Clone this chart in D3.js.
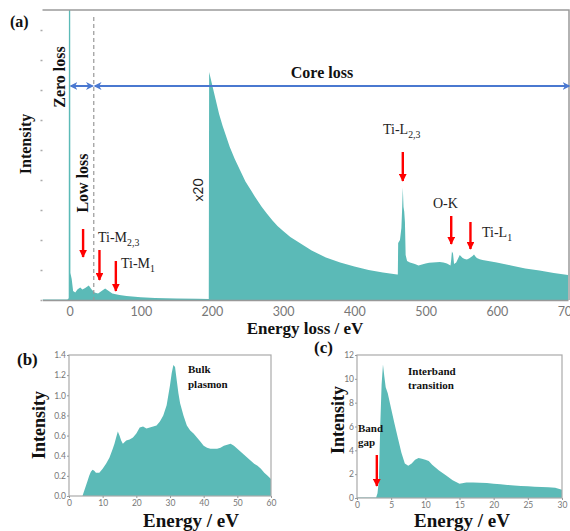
<!DOCTYPE html>
<html>
<head>
<meta charset="utf-8">
<script src="https://cdn.jsdelivr.net/npm/d3@7"></script>
<style>
  body { margin: 0; background: #fff; }
  svg { display: block; }
  .lbl { font-family: "Liberation Serif", "Times New Roman", serif; font-weight: bold; fill: #111; }
  .peak { font-family: "Liberation Serif", "Times New Roman", serif; fill: #222; }
  .tick text { font-family: Lato, "Open Sans", sans-serif; fill: #777; }
</style>
</head>
<body>
<svg id="chart" width="570" height="531"></svg>
<script>
// EELS spectrum (a): energy loss in eV and intensity (arbitrary units, core part x20)
const lossEnergy = [-38, -3, -1.2, -0.8, 0.8, 1.2, 3, 5, 8, 11, 15, 18, 22, 27, 31, 35, 40, 45, 50, 55, 60, 70, 80, 100, 120, 150, 180, 195.5,
  196, 200, 205, 210, 215, 220, 225, 232, 240, 247, 255, 262, 270, 277, 285, 292, 300, 310, 320, 330, 340, 350, 360, 370, 380, 390, 400, 410, 420, 430, 440, 450, 460, 461,
  461.5, 464, 466, 467, 468, 469, 470, 471, 472, 474, 478, 485, 490, 495, 500, 505, 510, 515, 520, 525, 530, 535, 536, 537, 538.5, 540, 543, 546, 548, 550, 552, 555, 558, 561, 563, 566, 568, 570, 572, 576, 580, 590, 600, 610, 620, 630, 640, 650, 660, 670, 680, 690, 700, 710];
const lossIntensity = [0.02, 0.02, 0.06, 14, 14, 0.9, 0.7, 0.3, 0.25, 0.35, 0.42, 0.35, 0.4, 0.48, 0.35, 0.25, 0.22, 0.3, 0.38, 0.3, 0.22, 0.17, 0.13, 0.09, 0.07, 0.05, 0.04, 0.03,
  7.6, 7.2, 6.7, 6.2, 5.8, 5.45, 5.1, 4.7, 4.3, 3.95, 3.65, 3.38, 3.1, 2.88, 2.65, 2.47, 2.3, 2.1, 1.95, 1.8, 1.65, 1.53, 1.42, 1.33, 1.25, 1.18, 1.12, 1.06, 1.0, 0.96, 0.92, 0.88, 0.85, 0.85,
  1.9, 2.0, 2.4, 3.0, 3.75, 3.1, 2.95, 2.6, 1.5, 1.3, 1.25, 1.2, 1.15, 1.18, 1.22, 1.24, 1.25, 1.26, 1.27, 1.25, 1.22, 1.15, 1.35, 1.62, 1.55, 1.2, 1.25, 1.4, 1.5, 1.45, 1.4, 1.37, 1.35, 1.38, 1.42, 1.47, 1.52, 1.45, 1.4, 1.36, 1.33, 1.29, 1.25, 1.2, 1.15, 1.1, 1.05, 1.02, 0.98, 0.94, 0.9, 0.87, 0.83, 0.82];
const lossTicks = [0, 100, 200, 300, 400, 500, 600, 700];
const lossYTicks = [0, 1, 2, 3, 4, 5, 6, 7, 8, 9];

// low-loss spectrum (b): bulk plasmon
const plasmonEnergy = [0, 4, 4.5, 5, 5.5, 6, 6.5, 7, 7.5, 8, 9, 10, 11, 12, 13, 13.5, 14, 14.5, 15, 15.5, 16, 17, 18, 19, 20, 21, 22, 23, 24, 25, 26, 27, 28, 29, 29.5, 30, 30.5, 31, 31.5, 32, 32.5, 33, 34, 35, 36, 37, 38, 39, 40, 41, 42, 43, 44, 45, 46, 47, 48, 49, 50, 51, 52, 53, 54, 55, 56, 57, 58, 59, 60];
const plasmonIntensity = [0, 0, 0.05, 0.1, 0.15, 0.2, 0.24, 0.26, 0.25, 0.23, 0.23, 0.27, 0.32, 0.38, 0.47, 0.52, 0.58, 0.64, 0.6, 0.55, 0.52, 0.55, 0.56, 0.58, 0.62, 0.68, 0.69, 0.67, 0.68, 0.69, 0.7, 0.74, 0.8, 0.9, 1.0, 1.1, 1.22, 1.3, 1.28, 1.15, 1.02, 0.92, 0.8, 0.7, 0.65, 0.62, 0.58, 0.54, 0.5, 0.48, 0.47, 0.47, 0.47, 0.48, 0.5, 0.51, 0.52, 0.5, 0.47, 0.44, 0.41, 0.38, 0.35, 0.32, 0.3, 0.27, 0.23, 0.2, 0.17];
const plasmonXTicks = [0, 10, 20, 30, 40, 50, 60];
const plasmonYTicks = [0, 0.2, 0.4, 0.6, 0.8, 1.0, 1.2, 1.4];

// low-loss spectrum (c): band gap / interband transition
const gapEnergy = [0, 2.8, 3.0, 3.2, 3.4, 3.6, 3.8, 4.0, 4.2, 4.5, 5, 5.5, 6, 6.5, 7, 7.5, 8, 8.5, 9, 9.5, 10, 10.5, 11, 12, 13, 14, 15, 16, 17, 18, 19, 20, 21, 22, 23, 24, 25, 26, 27, 28, 29, 30];
const gapIntensity = [0.05, 0.05, 0.4, 1.5, 6, 9.5, 11.2, 10.2, 9.3, 8.8, 7.5, 6.2, 5.0, 3.8, 2.9, 2.7, 2.9, 3.2, 3.35, 3.3, 3.2, 3.1, 2.8, 2.3, 1.9, 1.5, 1.2, 1.3, 1.3, 1.28, 1.25, 1.2, 1.15, 1.1, 1.05, 1.0, 0.98, 0.95, 0.92, 0.9, 0.85, 0.7];
const gapXTicks = [0, 5, 10, 15, 20, 25, 30];
const gapYTicks = [0, 2, 4, 6, 8, 10, 12];

const fillColor = "#5bbab7";
const svg = d3.select("#chart");

const defs = svg.append("defs");
// red arrow head
defs.append("marker")
  .attr("id", "redHead")
  .attr("viewBox", "0 0 10 10")
  .attr("refX", 9).attr("refY", 5)
  .attr("markerWidth", 3.2).attr("markerHeight", 3.2)
  .attr("markerUnits", "strokeWidth")
  .attr("orient", "auto")
  .append("path").attr("d", "M0,0L10,5L0,10z").attr("fill", "#f00");
// blue arrow head
defs.append("marker")
  .attr("id", "blueHead")
  .attr("viewBox", "0 0 10 10")
  .attr("refX", 8).attr("refY", 5)
  .attr("markerWidth", 4).attr("markerHeight", 4)
  .attr("markerUnits", "strokeWidth")
  .attr("orient", "auto-start-reverse")
  .append("path").attr("d", "M0,0L10,5L0,10L3,5z").attr("fill", "#4a78d0");

// Function used to draw a filled spectrum inside a box.
const drawSpectrum = (g, energy, intensity, x, y, clipId) => {
  const data = energy.map((e, i) => [e, intensity[i]]);
  const [x0, x1] = x.range();
  const [y0, y1] = y.range();
  defs.append("clipPath").attr("id", clipId)
    .append("rect").attr("x", x0).attr("y", y1).attr("width", x1 - x0).attr("height", y0 - y1);
  const area = d3.area()
    .x(d => x(d[0]))
    .y0(y(0))
    .y1(d => y(d[1]));
  g.append("path")
    .datum(data)
    .attr("clip-path", `url(#${clipId})`)
    .attr("fill", fillColor)
    .attr("d", area);
}

// Function used to draw a vertical red arrow pointing down.
const redArrow = (x, yTop, yBottom) => {
  svg.append("line")
    .attr("x1", x).attr("x2", x)
    .attr("y1", yTop).attr("y2", yBottom)
    .attr("stroke", "#f00")
    .attr("stroke-width", 2.4)
    .attr("marker-end", "url(#redHead)");
}

// Function used for labels with a subscript.
const subLabel = (x, y, main, sub, size) => {
  const t = svg.append("text").attr("class", "peak")
    .attr("x", x).attr("y", y)
    .style("font-size", size + "px");
  t.append("tspan").text(main);
  if (sub) t.append("tspan").attr("dy", 4).style("font-size", (size * 0.7) + "px").text(sub);
  return t;
}

// ---------------- panel (a) ----------------
const xA = d3.scaleLinear().domain([-38, 700]).range([42.5, 568]);
const yA = d3.scaleLinear().domain([0, 9.667]).range([300, 10]);
const gA = svg.append("g");

drawSpectrum(gA, lossEnergy, lossIntensity, xA, yA, "clipA");

// frame: top and right lines
gA.append("path")
  .attr("d", `M${xA(-38)},10H569V300`)
  .attr("fill", "none").attr("stroke", "#9a9a9a").attr("stroke-width", 1.5);

gA.append("g")
  .attr("transform", "translate(0,300)")
  .call(d3.axisBottom(xA).tickValues(lossTicks).tickSize(0).tickPadding(7))
  .call(a => a.select(".domain").attr("stroke", "#999").attr("stroke-width", 1.5))
  .selectAll("text").style("font-size", "12.5px");

gA.append("g")
  .attr("transform", `translate(${xA(-38)},0)`)
  .call(d3.axisLeft(yA).tickValues(lossYTicks).tickSize(2).tickFormat(""))
  .call(a => a.select(".domain").remove())
  .selectAll("line").attr("stroke", "#aaa").attr("stroke-width", 1.5);

// dashed separator between low loss and core loss
svg.append("line")
  .attr("x1", xA(34)).attr("x2", xA(34))
  .attr("y1", 17).attr("y2", 300)
  .attr("stroke", "#999").attr("stroke-width", 1.2)
  .attr("stroke-dasharray", "4,3");

// blue range arrows
const blueArrow = (xa, xb) => {
  svg.append("line")
    .attr("x1", xa).attr("x2", xb)
    .attr("y1", 86).attr("y2", 86)
    .attr("stroke", "#4a78d0").attr("stroke-width", 2)
    .attr("marker-start", "url(#blueHead)")
    .attr("marker-end", "url(#blueHead)");
}
blueArrow(xA(2), xA(32));
blueArrow(xA(36), 569);

svg.append("text").attr("class", "lbl")
  .attr("x", 322).attr("y", 78).attr("text-anchor", "middle")
  .style("font-size", "16px").text("Core  loss");
svg.append("text").attr("class", "lbl")
  .attr("transform", "translate(65,77) rotate(-90)").attr("text-anchor", "middle")
  .style("font-size", "16px").text("Zero  loss");
svg.append("text").attr("class", "lbl")
  .attr("transform", "translate(88,183) rotate(-90)").attr("text-anchor", "middle")
  .style("font-size", "16px").text("Low loss");
svg.append("text").attr("class", "lbl")
  .attr("transform", "translate(31,144) rotate(-90)").attr("text-anchor", "middle")
  .style("font-size", "16px").text("Intensity");
svg.append("text").attr("class", "lbl")
  .attr("x", 10).attr("y", 27).style("font-size", "16px").text("(a)");
svg.append("text").attr("class", "lbl")
  .attr("x", 305).attr("y", 334).attr("text-anchor", "middle")
  .style("font-size", "17px").text("Energy loss / eV");
svg.append("text")
  .attr("transform", "translate(203,190) rotate(-90)").attr("text-anchor", "middle")
  .style("font-family", "Lato, sans-serif").style("font-size", "14px").attr("fill", "#222")
  .text("x20");

// peak annotations
redArrow(xA(19), 229, 257);
redArrow(xA(42), 250, 280);
redArrow(xA(65), 261, 291);
subLabel(98, 242, "Ti-M", "2,3", 14);
subLabel(121, 268, "Ti-M", "1", 14);
redArrow(xA(468), 152, 181);
subLabel(383, 134, "Ti-L", "2,3", 14);
redArrow(xA(536), 216, 244);
subLabel(433, 208, "O-K", null, 14);
redArrow(xA(563), 222, 249);
subLabel(482, 237, "Ti-L", "1", 14);

// ---------------- panels (b) and (c) ----------------
const smallPanel = (energy, intensity, xDomain, yDomain, xTicks, yTicks, yFmt, box, clipId) => {
  const x = d3.scaleLinear().domain(xDomain).range([box.left, box.right]);
  const y = d3.scaleLinear().domain(yDomain).range([box.bottom, box.top]);
  const g = svg.append("g");
  drawSpectrum(g, energy, intensity, x, y, clipId);
  g.append("rect")
    .attr("x", box.left).attr("y", box.top)
    .attr("width", box.right - box.left).attr("height", box.bottom - box.top)
    .attr("fill", "none").attr("stroke", "#aaa").attr("stroke-width", 1.2);
  g.append("g")
    .attr("transform", `translate(0,${box.bottom})`)
    .call(d3.axisBottom(x).tickValues(xTicks).tickSize(2).tickPadding(2))
    .call(a => a.select(".domain").remove())
    .call(a => a.selectAll("line").attr("stroke", "#999"))
    .selectAll("text").style("font-size", "8.5px");
  g.append("g")
    .attr("transform", `translate(${box.left},0)`)
    .call(d3.axisLeft(y).tickValues(yTicks).tickSize(2).tickPadding(1).tickFormat(yFmt))
    .call(a => a.select(".domain").remove())
    .call(a => a.selectAll("line").attr("stroke", "#999"))
    .selectAll("text").style("font-size", "8.5px");
  return { x, y };
}

const pB = smallPanel(plasmonEnergy, plasmonIntensity, [0, 60], [0, 1.4], plasmonXTicks, plasmonYTicks,
  d3.format(".1f"), { left: 69, right: 271, top: 355, bottom: 496 }, "clipB");
const pC = smallPanel(gapEnergy, gapIntensity, [0, 30], [0, 12], gapXTicks, gapYTicks,
  d3.format("d"), { left: 357, right: 562, top: 355, bottom: 498 }, "clipC");

svg.append("text").attr("class", "lbl")
  .attr("x", 17).attr("y", 365).style("font-size", "17px").text("(b)");
svg.append("text").attr("class", "lbl")
  .attr("transform", "translate(45,425) rotate(-90)").attr("text-anchor", "middle")
  .style("font-size", "18px").text("Intensity");
svg.append("text").attr("class", "lbl")
  .attr("x", 191).attr("y", 527).attr("text-anchor", "middle")
  .style("font-size", "19px").text("Energy / eV");
svg.append("text").attr("class", "lbl").attr("x", 188).attr("y", 373).style("font-size", "11px").text("Bulk");
svg.append("text").attr("class", "lbl").attr("x", 188).attr("y", 388).style("font-size", "11px").text("plasmon");

svg.append("text").attr("class", "lbl")
  .attr("x", 314).attr("y", 353).style("font-size", "17px").text("(c)");
svg.append("text").attr("class", "lbl")
  .attr("transform", "translate(344,420) rotate(-90)").attr("text-anchor", "middle")
  .style("font-size", "18px").text("Intensity");
svg.append("text").attr("class", "lbl")
  .attr("x", 462).attr("y", 527).attr("text-anchor", "middle")
  .style("font-size", "19px").text("Energy / eV");
svg.append("text").attr("class", "lbl").attr("x", 408).attr("y", 375).style("font-size", "11px").text("Interband");
svg.append("text").attr("class", "lbl").attr("x", 408).attr("y", 389).style("font-size", "11px").text("transition");
svg.append("text").attr("class", "lbl").attr("x", 358).attr("y", 432).style("font-size", "11px").text("Band");
svg.append("text").attr("class", "lbl").attr("x", 358).attr("y", 446).style("font-size", "11px").text("gap");
redArrow(pC.x(2.9), 455, 486);
</script>
</body>
</html>
